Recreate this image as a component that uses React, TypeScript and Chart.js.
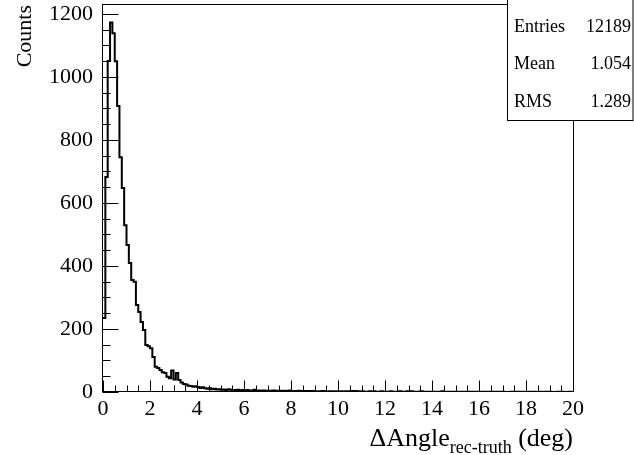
import React, { useEffect, useRef } from "react";
import { Chart, registerables } from "chart.js";

Chart.register(...registerables);

// ---- data ----
const X_MIN = 0;
const X_MAX = 20;
const BIN_WIDTH = 0.1;
const Y_MAX = 1231;

// counts per 0.1-wide bin, from 0 to 20
const counts0to1: number[] = [235, 682, 1050, 1172, 1138, 1049, 907, 745, 647, 529];
const counts1to2: number[] = [466, 409, 355, 350, 276, 254, 222, 197, 149, 145];
const counts2to3: number[] = [139, 111, 80, 76, 70, 63, 60, 48, 44, 68];
const counts3to4: number[] = [40, 60, 38, 30, 25, 24, 20, 19, 17, 18];
const counts4to6: number[] = [16, 13, 15, 12, 10, 12, 9, 10, 8, 9, 7, 8, 6, 9, 7, 5, 6, 7, 5, 6];
const counts6to8: number[] = [5, 6, 4, 5, 7, 4, 5, 3, 5, 4, 4, 3, 5, 4, 3, 4, 2, 4, 3, 5];
const counts8to10: number[] = [3, 2, 3, 4, 2, 3, 2, 3, 2, 3, 2, 1, 2, 3, 2, 1, 2, 2, 1, 2];
const counts10to12: number[] = [1, 2, 1, 2, 1, 3, 2, 3, 2, 1, 2, 1, 1, 2, 1, 2, 1, 1, 2, 1];
const counts12to14: number[] = [1, 1, 2, 1, 1, 1, 2, 1, 1, 2, 1, 2, 1, 1, 1, 2, 1, 1, 1, 0];
const counts14to16: number[] = [1, 1, 0, 1, 2, 1, 1, 0, 1, 1, 1, 0, 1, 1, 1, 0, 1, 1, 0, 1];
const counts16to18: number[] = [0, 1, 1, 0, 1, 1, 0, 1, 0, 1, 1, 0, 0, 1, 1, 0, 1, 0, 1, 0];
const counts18to20: number[] = [0, 1, 0, 1, 0, 0, 1, 0, 1, 0, 1, 0, 0, 1, 0, 1, 0, 0, 1, 0];

const counts: number[] = [
  ...counts0to1, ...counts1to2, ...counts2to3, ...counts3to4,
  ...counts4to6, ...counts6to8, ...counts8to10, ...counts10to12,
  ...counts12to14, ...counts14to16, ...counts16to18, ...counts18to20,
];

const xTickValues: number[] = [0, 2, 4, 6, 8, 10, 12, 14, 16, 18, 20];
const yTickValues: number[] = [0, 200, 400, 600, 800, 1000, 1200];
const xMinorStep = 0.5;
const yMinorStep = 50;

const yTitle = "Counts";
const xTitleMain = "\u0394Angle";
const xTitleSub = "rec-truth";
const xTitleUnit = " (deg)";

const statsLabels: string[] = ["Entries", "Mean", "RMS"];
const statsValues: string[] = ["12189", "1.054", "1.289"];

const FONT = "'Liberation Serif', 'Times New Roman', serif";

const rootPlugin = {
  id: "rootDecor",
  afterDraw(chart: any) {
    const { ctx, chartArea } = chart;
    const xs = chart.scales.x;
    const ys = chart.scales.y;
    const L = Math.round(chartArea.left) - 0.5;
    const R = Math.round(chartArea.right) + 0.5;
    const T = Math.round(chartArea.top) + 0.5;
    const B = Math.round(chartArea.bottom) - 0.5;
    ctx.save();
    ctx.strokeStyle = "#000";
    ctx.lineWidth = 1;
    // frame
    ctx.strokeRect(L, T, R - L, B - T);
    // y ticks
    ctx.beginPath();
    for (let v = 0; v <= Y_MAX; v += yMinorStep) {
      const y = Math.round(ys.getPixelForValue(v)) + 0.5;
      const major = yTickValues.includes(v);
      ctx.moveTo(L, y);
      ctx.lineTo(L + (major ? 16 : 8), y);
    }
    // x ticks
    for (let v = X_MIN; v <= X_MAX + 1e-9; v += xMinorStep) {
      const x = Math.round(xs.getPixelForValue(v)) + 0.5;
      const major = xTickValues.some((t) => Math.abs(t - v) < 1e-9);
      ctx.moveTo(x, B);
      ctx.lineTo(x, B - (major ? 11 : 6));
    }
    ctx.stroke();

    // y title
    ctx.fillStyle = "#000";
    ctx.save();
    ctx.translate(31, Math.round(chartArea.top) + 1);
    ctx.rotate(-Math.PI / 2);
    ctx.font = `22px ${FONT}`;
    ctx.textAlign = "right";
    ctx.textBaseline = "alphabetic";
    ctx.fillText(yTitle, 0, 0);
    ctx.restore();

    // x title (right aligned at axis end)
    const mainFont = `26px ${FONT}`;
    const subFont = `18px ${FONT}`;
    ctx.textBaseline = "alphabetic";
    ctx.textAlign = "left";
    ctx.font = mainFont;
    const w1 = ctx.measureText(xTitleMain).width;
    const w3 = ctx.measureText(xTitleUnit).width;
    ctx.font = subFont;
    const w2 = ctx.measureText(xTitleSub).width;
    const xEnd = chartArea.right;
    const x3 = xEnd - w3;
    const x2 = x3 - w2;
    const x1 = x2 - w1;
    ctx.font = mainFont;
    ctx.fillText(xTitleMain, x1, 446);
    ctx.fillText(xTitleUnit, x3, 446);
    ctx.font = subFont;
    ctx.fillText(xTitleSub, x2, 453);

    // stats box
    const bx = 507.5;
    const by = -0.5;
    const bw = 633 - bx;
    const bh = 121;
    ctx.fillStyle = "#fff";
    ctx.fillRect(bx, by, bw, bh);
    ctx.strokeStyle = "#000";
    ctx.strokeRect(bx, by, bw, bh);
    ctx.fillStyle = "#000";
    ctx.font = `18px ${FONT}`;
    ctx.textBaseline = "middle";
    const rowYs = [27, 64, 102];
    statsLabels.forEach((lab, i) => {
      ctx.textAlign = "left";
      ctx.fillText(lab, 514, rowYs[i]);
      ctx.textAlign = "right";
      ctx.fillText(statsValues[i], 631, rowYs[i]);
    });
    ctx.restore();
  },
};

export default function App() {
  const canvasRef = useRef<HTMLCanvasElement | null>(null);

  useEffect(() => {
    document.body.style.margin = "0";
    const canvas = canvasRef.current;
    if (!canvas) return;
    const points = counts.map((c, i) => ({ x: X_MIN + i * BIN_WIDTH, y: c }));
    points.push({ x: X_MAX, y: 0 });

    const chart = new Chart(canvas, {
      type: "line",
      data: {
        datasets: [
          {
            data: points,
            borderColor: "#000",
            borderWidth: 2,
            pointRadius: 0,
            fill: false,
            stepped: true,
            tension: 0,
          },
        ],
      },
      options: {
        animation: false,
        responsive: false,
        maintainAspectRatio: false,
        devicePixelRatio: 1,
        layout: { padding: { top: 4, right: 61, left: 0, bottom: 0 } },
        plugins: { legend: { display: false }, tooltip: { enabled: false } },
        scales: {
          x: {
            type: "linear",
            min: X_MIN,
            max: X_MAX,
            grid: { display: false, drawTicks: false },
            border: { display: false },
            afterFit: (s: any) => {
              s.height = 63;
              s.paddingLeft = 0;
              s.paddingRight = 0;
            },
            afterBuildTicks: (s: any) => {
              s.ticks = xTickValues.map((v) => ({ value: v }));
            },
            ticks: {
              autoSkip: false,
              maxRotation: 0,
              minRotation: 0,
              padding: 4,
              color: "#000",
              font: { family: FONT, size: 22 },
              callback: (v: any) => String(v),
            },
          },
          y: {
            type: "linear",
            min: 0,
            max: Y_MAX,
            grid: { display: false, drawTicks: false },
            border: { display: false },
            afterFit: (s: any) => {
              s.width = 103;
              s.paddingTop = 0;
              s.paddingBottom = 0;
            },
            afterBuildTicks: (s: any) => {
              s.ticks = yTickValues.map((v) => ({ value: v }));
            },
            ticks: {
              autoSkip: false,
              padding: 10,
              color: "#000",
              font: { family: FONT, size: 22 },
              callback: (v: any) => String(v),
            },
          },
        },
      },
      plugins: [rootPlugin],
    });
    return () => chart.destroy();
  }, []);

  return (
    <div style={{ position: "absolute", left: 0, top: 0, width: 634, height: 455, background: "#fff" }}>
      <canvas ref={canvasRef} width={634} height={455} style={{ width: 634, height: 455 }} />
    </div>
  );
}
